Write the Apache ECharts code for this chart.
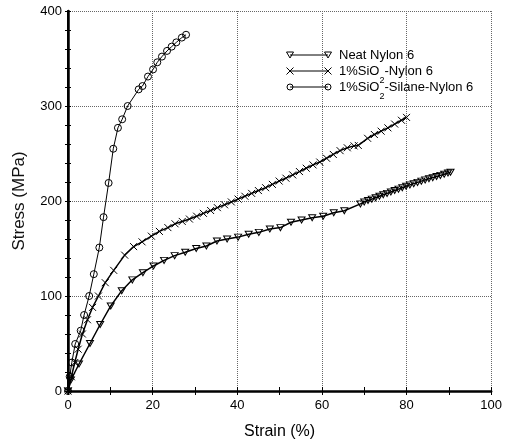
<!DOCTYPE html>
<html>
<head>
<meta charset="utf-8">
<script src="https://cdn.jsdelivr.net/npm/echarts@6/dist/echarts.min.js"></script>
<style>
  html, body { margin: 0; padding: 0; background: #fff; }
  #chart { width: 505px; height: 448px; }
</style>
</head>
<body>
<div id="chart"></div>
<script>
// Tensile stress-strain curves for nylon 6 and its silica composites
const xTicks = [0, 20, 40, 60, 80, 100];
const yTicks = [0, 100, 200, 300, 400];

const neatStrain = [0, 0.7, 2.6, 5.2, 7.6, 10.1, 12.7, 15.2, 17.7, 20.2, 22.7, 25.2, 27.7, 30.3,
  32.7, 35.2, 37.6, 40.2, 42.7, 45.1, 47.7, 50.2, 52.7, 55.2, 57.7, 60.3, 62.8, 65.3,
  69.1, 70.0, 70.9, 71.8, 72.7, 73.6, 74.5, 75.4, 76.3, 77.2, 78.1, 79.0, 79.9, 80.8,
  81.7, 82.6, 83.5, 84.4, 85.3, 86.2, 87.1, 88.0, 88.9, 89.8, 90.4];
const neatStress = [0, 11.6, 28.4, 50, 70, 89.5, 105.6, 117, 124.5, 131.6, 137.5, 142.5, 146, 150,
  152.6, 157.9, 160, 162, 165, 167, 170.5, 172, 177.6, 180, 182.4, 184, 187.7, 189.8,
  197, 199, 200.5, 202, 203.5, 205, 206.5, 208, 209.5, 211, 212.5, 214, 215.5, 217,
  218.3, 219.6, 220.9, 222.2, 223.4, 224.6, 225.8, 227, 228.2, 229.4, 230.3];

const sioStrain = [0, 0.8, 1.6, 2.4, 3.4, 4.6, 5.8, 7.2, 8.8, 10.8, 13.4, 15.5, 17.5, 19.7, 21.6,
  23.6, 25.3, 27.0, 28.7, 30.4, 32.0, 33.7, 35.3, 37.0, 38.6, 40.2, 41.8, 43.4, 45.0,
  46.7, 48.3, 49.9, 51.5, 53.1, 54.7, 56.3, 57.9, 59.5, 61.1, 62.7, 64.3, 66.0, 67.6,
  68.6, 70.8, 72.4, 74.0, 75.6, 77.2, 78.8, 80.0];
const sioStress = [0, 15, 30, 44, 60, 75, 88, 100, 114, 127, 143, 152, 157, 163, 168,
  172, 176, 178.5, 181, 184, 187, 190, 193, 196, 199, 202, 205, 208, 211,
  214, 217.5, 221, 224, 227.5, 231, 234.5, 238, 241, 245, 249, 253, 256, 258,
  258.5, 266, 270, 273.5, 277, 281, 285, 288];

const silaneStrain = [0, 0.4, 0.9, 1.7, 3.0, 3.8, 5.0, 6.1, 7.4, 8.4, 9.6, 10.7, 11.8, 12.8,
  14.1, 16.7, 17.6, 18.9, 20.1, 21.1, 22.2, 23.4, 24.5, 25.6, 26.9, 27.9];
const silaneStress = [0, 15, 30, 49.5, 63.5, 80, 100, 123, 151, 183, 219, 255, 277, 286,
  300, 317.5, 321, 331, 338.5, 346, 352, 358, 362.5, 367, 372, 375];

const seriesNames = ['Neat Nylon 6', '1%SiO2-Nylon 6', '1%SiO2-Silane-Nylon 6'];
const legendParts = [['Neat Nylon 6', '', ''], ['1%SiO', '2', '-Nylon 6'], ['1%SiO', '2', '-Silane-Nylon 6']];

const FONT = '"Liberation Sans", Arial, Helvetica, sans-serif';
const TRI = 'path://M0,0 L10,0 L5,9 Z';
const CROSS = 'path://M0,0 L10,10 M10,0 L0,10';

function zip(a, b) { return a.map((v, i) => [v, b[i]]); }

const chart = echarts.init(document.getElementById('chart'), null, { renderer: 'canvas' });

const markerStyle = { color: 'rgba(0,0,0,0)', borderColor: '#000', borderWidth: 1 };

function curve(name, xs, ys, symbol, size, width) {
  return {
    name: name, type: 'line', data: zip(xs, ys),
    symbol: symbol, symbolSize: size, showSymbol: true, showAllSymbol: true,
    lineStyle: { color: '#000', width: width },
    itemStyle: markerStyle,
    emphasis: { disabled: true },
    z: 3
  };
}

// legend drawn as line segments with a marker at each end
const G = { left: 68, right: 493, top: 11, bottom: 391 };
const legendX0 = 290, legendX1 = 328, legendTextX = 339;
const legendRows = [55, 71, 87];
const legendShapes = ['tri', 'cross', 'circle'];
const measure = document.createElement('canvas').getContext('2d');

function legendMarker(kind, x, y) {
  if (kind === 'tri') {
    return { type: 'polygon', shape: { points: [[x - 3.5, y - 3], [x + 3.5, y - 3], [x, y + 3]] },
      style: { fill: 'none', stroke: '#000', lineWidth: 1 } };
  }
  if (kind === 'cross') {
    return { type: 'group', children: [
      { type: 'line', shape: { x1: x - 3.5, y1: y - 3.5, x2: x + 3.5, y2: y + 3.5 }, style: { stroke: '#000', lineWidth: 1 } },
      { type: 'line', shape: { x1: x - 3.5, y1: y + 3.5, x2: x + 3.5, y2: y - 3.5 }, style: { stroke: '#000', lineWidth: 1 } }
    ] };
  }
  return { type: 'circle', shape: { cx: x, cy: y, r: 3 }, style: { fill: 'none', stroke: '#000', lineWidth: 1 } };
}

function textWidth(str, size) {
  measure.font = size + 'px ' + FONT;
  return measure.measureText(str).width;
}

const legendGraphics = [];
legendRows.forEach((y, i) => {
  legendGraphics.push({ type: 'line', shape: { x1: legendX0, y1: y, x2: legendX1, y2: y }, style: { stroke: '#000', lineWidth: 1 } });
  legendGraphics.push(legendMarker(legendShapes[i], legendX0, y));
  legendGraphics.push(legendMarker(legendShapes[i], legendX1, y));
  const p = legendParts[i];
  legendGraphics.push({ type: 'text', x: legendTextX, y: y,
    style: { text: p[0], font: '13px ' + FONT, fill: '#000', textVerticalAlign: 'middle' } });
  if (p[1]) {
    const w0 = textWidth(p[0], 13);
    const w1 = textWidth(p[1], 9);
    legendGraphics.push({ type: 'text', x: legendTextX + w0, y: y + 10,
      style: { text: p[1], font: '9px ' + FONT, fill: '#000', textVerticalAlign: 'middle' } });
    legendGraphics.push({ type: 'text', x: legendTextX + w0 + w1, y: y,
      style: { text: p[2], font: '13px ' + FONT, fill: '#000', textVerticalAlign: 'middle' } });
  }
});

const gridLine = { show: true, lineStyle: { color: '#666', width: 1, type: [1, 1] } };

chart.setOption({
  animation: false,
  backgroundColor: '#fff',
  grid: { left: G.left, right: 505 - G.right, top: G.top, bottom: 448 - G.bottom, containLabel: false },
  xAxis: [
    {
      type: 'value', min: xTicks[0], max: xTicks[xTicks.length - 1], interval: xTicks[1] - xTicks[0],
      name: 'Strain (%)', nameLocation: 'middle', nameGap: 33,
      nameTextStyle: { fontFamily: FONT, fontSize: 16, color: '#000' },
      axisLine: { lineStyle: { color: '#000', width: 2.5 } },
      axisTick: { inside: true, length: 4, lineStyle: { color: '#000' } },
      minorTick: { show: true, splitNumber: 2, length: 4, lineStyle: { color: '#000' } },
      axisLabel: { fontFamily: FONT, fontSize: 13, color: '#000', margin: 8 },
      splitLine: gridLine
    },
    {
      type: 'value', position: 'top', min: xTicks[0], max: xTicks[xTicks.length - 1], interval: xTicks[1] - xTicks[0],
      axisLine: { lineStyle: { color: '#000', width: 1 } },
      axisTick: { inside: true, length: 4, lineStyle: { color: '#000' } },
      minorTick: { show: true, splitNumber: 2, length: 4, lineStyle: { color: '#000' } },
      axisLabel: { show: false }, splitLine: { show: false }
    }
  ],
  yAxis: [
    {
      type: 'value', min: yTicks[0], max: yTicks[yTicks.length - 1], interval: yTicks[1] - yTicks[0],
      name: 'Stress (MPa)', nameLocation: 'middle', nameGap: 40,
      nameTextStyle: { fontFamily: FONT, fontSize: 17, color: '#111' },
      axisLine: { lineStyle: { color: '#000', width: 2.5 } },
      axisTick: { inside: true, length: 3, lineStyle: { color: '#000' } },
      minorTick: { show: true, splitNumber: 5, length: 3, lineStyle: { color: '#000' } },
      axisLabel: { fontFamily: FONT, fontSize: 13, color: '#000', margin: 6 },
      splitLine: gridLine
    },
    {
      type: 'value', position: 'right', min: yTicks[0], max: yTicks[yTicks.length - 1], interval: yTicks[1] - yTicks[0],
      axisLine: { show: true, lineStyle: { color: '#000', width: 2 } },
      axisTick: { show: true, inside: true, length: 3, lineStyle: { color: '#000' } },
      minorTick: { show: true, splitNumber: 5, length: 3, lineStyle: { color: '#000' } },
      axisLabel: { show: false }, splitLine: { show: false }
    }
  ],
  series: [
    curve(seriesNames[0], neatStrain, neatStress, TRI, [7, 6], 1.5),
    curve(seriesNames[1], sioStrain, sioStress, CROSS, 7, 1.5),
    curve(seriesNames[2], silaneStrain, silaneStress, 'circle', 7, 1)
  ],
  graphic: legendGraphics
});
</script>
</body>
</html>
